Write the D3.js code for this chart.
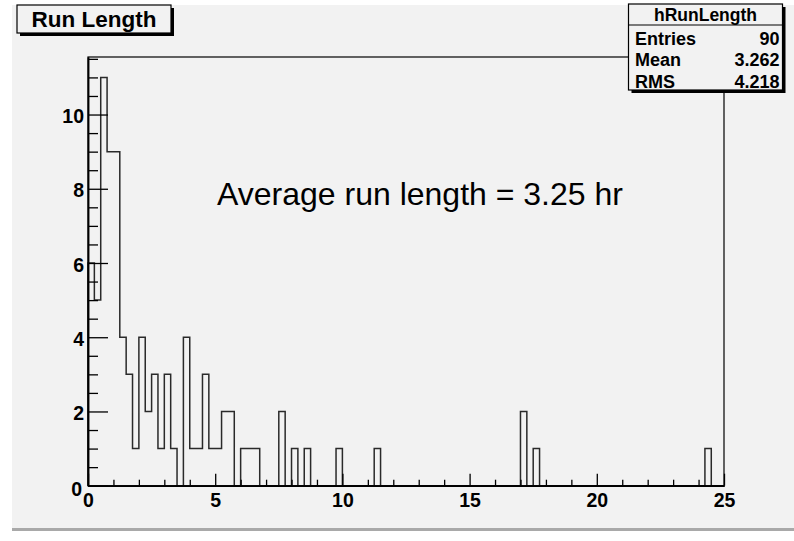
<!DOCTYPE html>
<html>
<head>
<meta charset="utf-8">
<script src="https://cdn.jsdelivr.net/npm/d3@7/dist/d3.min.js"></script>
<style>
  html, body { margin: 0; padding: 0; background: #ffffff; }
  svg { display: block; }
  text { font-family: "Liberation Sans", Arial, Helvetica, sans-serif; }
</style>
</head>
<body>
<svg id="chart" width="794" height="541"></svg>
<script>
// ---- data ----
const histTitle = "Run Length";
const histName = "hRunLength";
const xDomain = [0, 25];
const binWidth = 0.25;
// counts per bin (100 bins of 0.25 hr from 0 to 25)
const counts = [
  6, 5, 11, 9, 9, 4, 3, 1, 4, 2,
  3, 1, 3, 1, 0, 4, 1, 1, 3, 1,
  1, 2, 2, 0, 1, 1, 1, 0, 0, 0,
  2, 0, 1, 0, 1, 0, 0, 0, 0, 1,
  0, 0, 0, 0, 0, 1, 0, 0, 0, 0,
  0, 0, 0, 0, 0, 0, 0, 0, 0, 0,
  0, 0, 0, 0, 0, 0, 0, 0, 2, 0,
  1, 0, 0, 0, 0, 0, 0, 0, 0, 0,
  0, 0, 0, 0, 0, 0, 0, 0, 0, 0,
  0, 0, 0, 0, 0, 0, 0, 1, 0, 0
];
const xMajorTicks = [0, 5, 10, 15, 20, 25];
const yMajorTicks = [0, 2, 4, 6, 8, 10];
const statLabels = ["Entries", "Mean", "RMS"];
const statValues = ["90", "3.262", "4.218"];
const annotation = "Average run length = 3.25 hr";

(function () {
// ---- layout ----
const svg = d3.select("#chart");
const pL = 88, pR = 724, pT = 57, pB = 485.7;
const yMax = d3.max(counts) * 1.05;

const x = d3.scaleLinear().domain(xDomain).range([pL, pR]);
const y = d3.scaleLinear().domain([0, yMax]).range([pB, pT]);

// pad background
svg.append("rect").attr("x", 12).attr("y", 5).attr("width", 782).attr("height", 525)
  .attr("fill", "#f2f2f2");
svg.append("rect").attr("x", 12).attr("y", 528).attr("width", 782).attr("height", 3)
  .attr("fill", "#a9a9a9");

// histogram outline
const pts = [[xDomain[0], 0]];
counts.forEach((c, i) => {
  const x0 = xDomain[0] + i * binWidth;
  pts.push([x0, c]);
  pts.push([x0 + binWidth, c]);
});
pts.push([xDomain[1], 0]);
const line = d3.line().x(d => x(d[0])).y(d => y(d[1]));
svg.append("path").attr("d", line(pts))
  .attr("fill", "none").attr("stroke", "#2a2a2a").attr("stroke-width", 1.5);

// frame
svg.append("rect").attr("x", pL).attr("y", pT)
  .attr("width", pR - pL).attr("height", pB - pT)
  .attr("fill", "none").attr("stroke", "#000").attr("stroke-width", 1.2);

// y axis
const yMinor = d3.range(0.5, yMax, 0.5).filter(v => Math.abs(v % 2) > 1e-9);
svg.append("g").attr("transform", `translate(${pL},0)`)
  .call(d3.axisLeft(y).tickValues(yMinor).tickSizeInner(-10).tickSizeOuter(0).tickFormat(""));
const yAxis = svg.append("g").attr("transform", `translate(${pL},0)`)
  .call(d3.axisLeft(y).tickValues(yMajorTicks).tickSizeInner(-20).tickSizeOuter(0).tickPadding(4));

// x axis
const xMinor = d3.range(1, 25, 1).filter(v => v % 5 !== 0);
svg.append("g").attr("transform", `translate(0,${pB})`)
  .call(d3.axisBottom(x).tickValues(xMinor).tickSizeInner(-6).tickSizeOuter(0).tickFormat(""));
svg.append("g").attr("transform", `translate(0,${pB})`)
  .call(d3.axisBottom(x).tickValues(xMajorTicks).tickSizeInner(-12).tickSizeOuter(0).tickPadding(7));

svg.selectAll(".domain").attr("stroke", "#000").attr("stroke-width", 1.5);
svg.selectAll(".tick line").attr("stroke", "#000").attr("stroke-width", 1.3);
svg.selectAll(".tick text")
  .attr("font-family", "'Liberation Sans', Arial, sans-serif")
  .attr("font-weight", "bold").attr("font-size", 19.5).attr("fill", "#000");
yAxis.selectAll(".tick text").attr("dy", "0.42em");
yAxis.selectAll(".tick text").filter(d => d === 0).attr("x", -6).attr("dy", "0.5em");

// annotation
svg.append("text").attr("x", 217).attr("y", 205)
  .attr("font-size", 32).attr("fill", "#000").text(annotation);

// boxes
function shadowBox(bx, by, bw, bh) {
  svg.append("rect").attr("x", bx + 3).attr("y", by + 3).attr("width", bw).attr("height", bh)
    .attr("fill", "#000");
  svg.append("rect").attr("x", bx).attr("y", by).attr("width", bw).attr("height", bh)
    .attr("fill", "#f2f2f2").attr("stroke", "#000").attr("stroke-width", 1.2);
}
shadowBox(17, 5, 154, 28);
svg.append("text").attr("x", 94).attr("y", 26.5).attr("text-anchor", "middle")
  .attr("font-weight", "bold").attr("font-size", 22.5).attr("fill", "#000").text(histTitle);

const sx = 628.5, sy = 4, sw = 154, sh = 86;
shadowBox(sx, sy, sw, sh);
svg.append("line").attr("x1", sx).attr("x2", sx + sw).attr("y1", 25).attr("y2", 25)
  .attr("stroke", "#000").attr("stroke-width", 1.2);
svg.append("text").attr("x", sx + sw / 2).attr("y", 20.7).attr("text-anchor", "middle")
  .attr("font-weight", "bold").attr("font-size", 17.5).text(histName);
const rowY = [45, 66.7, 88.3];
statLabels.forEach((lab, i) => {
  svg.append("text").attr("x", 635).attr("y", rowY[i] - 0.5)
    .attr("font-weight", "bold").attr("font-size", 18).text(lab);
  svg.append("text").attr("x", 779.5).attr("y", rowY[i] - 0.5).attr("text-anchor", "end")
    .attr("font-weight", "bold").attr("font-size", 18).text(statValues[i]);
});
})();
</script>
</body>
</html>
